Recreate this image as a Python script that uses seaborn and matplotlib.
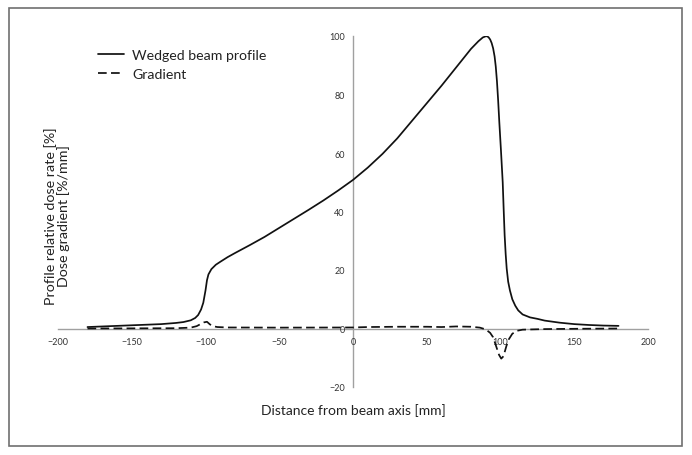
import numpy as np
import pandas as pd
import matplotlib
matplotlib.use("Agg")
import matplotlib.pyplot as plt
from matplotlib.patches import Rectangle
import seaborn as sns

# Wedged beam profile
profile_x = [-180, -170, -160, -150, -140, -130, -120, -115, -110, -107, -105, -103,
             -101.5, -100, -99, -98, -96, -93, -90, -85, -80, -70, -60, -50, -40,
             -30, -20, -10, 0, 10, 20, 30, 40, 50, 60, 70, 80, 85, 88, 90, 91, 92, 93,
             94, 95, 96, 96.8, 97.6, 98.4, 99.2, 100.3, 101.5, 102.2, 102.8, 103.5,
             104.2, 105.2, 106.4, 108, 110, 112, 115, 120, 125, 130, 140, 150, 160,
             170, 180]
profile_y = [0.5, 0.7, 0.9, 1.1, 1.3, 1.5, 1.9, 2.2, 2.8, 3.6, 4.6, 6.5,
             8.8, 13, 16.5, 18.5, 20.3, 21.8, 22.8, 24.4, 25.8, 28.5, 31.3, 34.4, 37.5,
             40.6, 43.8, 47.2, 50.8, 55.0, 59.7, 65.0, 71.0, 77.0, 83.0, 89.3, 95.6, 98.2, 99.5, 99.9, 99.9, 99.5, 98.8,
             97.6, 95.8, 93.0, 89.5, 84.5, 78.0, 70.5, 61, 50, 40, 32, 25.5,
             20.5, 16, 13, 10, 7.8, 6.2, 4.8, 3.8, 3.3, 2.7, 2.0, 1.5, 1.2,
             1.0, 0.9]

# Dose gradient
grad_x = [-180, -150, -120, -110, -106, -103, -101, -99, -97, -95, -92, -85, -50,
          0, 10, 30, 50, 60, 70, 80, 86, 90, 93, 95, 97, 99, 100.5, 102, 104,
          105.5, 108, 111, 115, 130, 150, 180]
grad_y = [0.0, 0.05, 0.1, 0.3, 0.8, 1.6, 2.1, 2.3, 1.4, 0.8, 0.5, 0.35, 0.3,
          0.35, 0.5, 0.6, 0.6, 0.5, 0.7, 0.6, 0.3, -0.3, -1.5, -3, -6, -9, -10.3, -9.5, -6,
          -3.8, -1.8, -0.8, -0.4, -0.2, -0.1, 0.0]

x_ticks = [-200, -150, -100, -50, 0, 50, 100, 150, 200]
y_ticks = [-20, 0, 20, 40, 60, 80, 100]

sns.set_style("white")
plt.rcParams['font.family'] = ['Lato', 'DejaVu Sans']

df_prof = pd.DataFrame({'x': profile_x, 'y': profile_y})
df_grad = pd.DataFrame({'x': grad_x, 'y': grad_y})

fig = plt.figure(figsize=(6.92, 4.56), dpi=100)
ax = fig.add_axes([58 / 692, 1 - 388 / 456, 590 / 692, 351 / 456])

sns.lineplot(data=df_prof, x='x', y='y', ax=ax, color='#111111', linewidth=1.25,
             label='Wedged beam profile')
sns.lineplot(data=df_grad, x='x', y='y', ax=ax, color='#111111', linewidth=1.25,
             dashes=False, label='Gradient')
ax.lines[1].set_dashes((5, 2.5))

ax.set_xlim(-200, 200)
ax.set_ylim(-20, 100)
ax.set_xticks(x_ticks)
ax.set_yticks(y_ticks)
ax.set_xticklabels([str(t).replace('-', '\u2212') for t in x_ticks])
ax.set_yticklabels([str(t).replace('-', '\u2212') for t in y_ticks])

for s in ['top', 'right']:
    ax.spines[s].set_visible(False)
ax.spines['left'].set_position(('data', 0))
ax.spines['bottom'].set_position(('data', 0))
for s in ['left', 'bottom']:
    ax.spines[s].set_color('#a0a0a0')
    ax.spines[s].set_linewidth(1.0)
    ax.spines[s].set_zorder(0)
ax.tick_params(axis='both', direction='out', length=3, width=0.8, color='#a0a0a0',
               labelsize=6.5, labelcolor='#333333', pad=3)

ax.set_xlabel('Distance from beam axis [mm]', fontsize=10, color='#222222')
ax.set_ylabel('Profile relative dose rate [%]\nDose gradient [%/mm]', fontsize=10.3,
              color='#222222', linespacing=0.95)
ax.xaxis.set_label_coords(0.5, -0.045)
ax.yaxis.set_label_coords(0.02, 0.49)

leg = ax.legend(loc='upper left', bbox_to_anchor=(0.056, 0.982), frameon=False,
                fontsize=10.2, handlelength=1.8, handletextpad=0.6, borderpad=0,
                labelspacing=0.45)
for t in leg.get_texts():
    t.set_color('#222222')

fig.patches.append(Rectangle((9 / 692, 1 - 447 / 456), 673 / 692, 438 / 456,
                             transform=fig.transFigure, fill=False,
                             edgecolor='#707070', linewidth=1.2))

fig.savefig('out.png', dpi=100)
